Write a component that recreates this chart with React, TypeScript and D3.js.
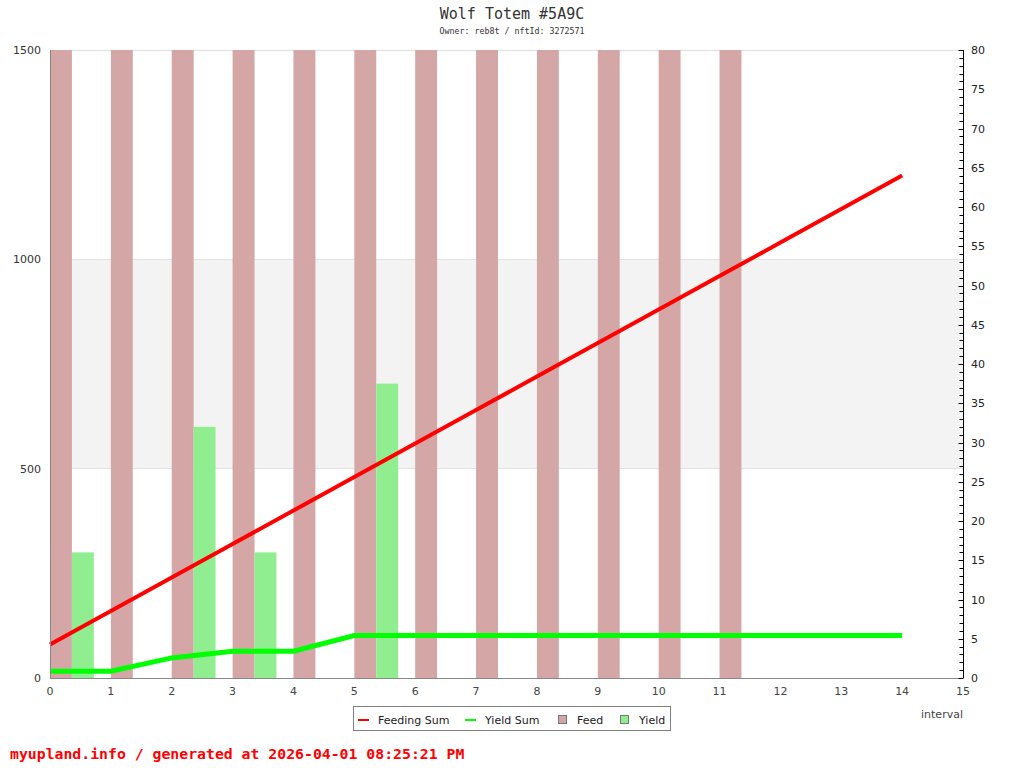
import { useEffect, useRef } from 'react';
import * as d3 from 'd3';

// interval index for each value
const intervals = d3.range(0, 15);
const feed = [80, 80, 80, 80, 80, 80, 80, 80, 80, 80, 80, 80, 0, 0, 0];
const yieldVals = [16, 0, 32, 16, 0, 37.5, 0, 0, 0, 0, 0, 0, 0, 0, 0];
const feedingSum = [80, 160, 240, 320, 400, 480, 560, 640, 720, 800, 880, 960, 1040, 1120, 1200];
const yieldSum = [16, 16, 48, 64, 64, 101.5, 101.5, 101.5, 101.5, 101.5, 101.5, 101.5, 101.5, 101.5, 101.5];
const leftTicks = [0, 500, 1000, 1500];
const xTicks = d3.range(0, 16);

const App = () => {
  const svgRef = useRef<SVGSVGElement | null>(null);

  const width = 1024;
  const height = 768;
  const marginTop = 50;
  const marginRight = 61;
  const marginBottom = 90;
  const marginLeft = 50;
  const barW = 0.36;

  useEffect(() => {
    const svgElement = svgRef.current;
    if (!svgElement) return;
    const svg = d3.select(svgElement);
    svg.selectAll('*').remove();

    const x = d3.scaleLinear().domain([0, 15]).range([marginLeft, width - marginRight]);
    const yL = d3.scaleLinear().domain([0, 1500]).range([height - marginBottom, marginTop]);
    const yR = d3.scaleLinear().domain([0, 80]).range([height - marginBottom, marginTop]);
    const sans = "'DejaVu Sans', sans-serif";
    const mono = "'DejaVu Sans Mono', monospace";

    svg.append('rect').attr('width', width).attr('height', height).attr('fill', '#fff');

    // title
    svg.append('text').attr('x', 512).attr('y', 19).attr('text-anchor', 'middle')
      .attr('font-family', mono).attr('font-size', 15).attr('fill', '#333')
      .text('Wolf Totem #5A9C');
    svg.append('text').attr('x', 512).attr('y', 34).attr('text-anchor', 'middle')
      .attr('font-family', mono).attr('font-size', 8.3).attr('fill', '#333')
      .text('Owner: reb8t / nftId: 3272571');

    // band + grid
    svg.append('rect')
      .attr('x', x(0)).attr('width', x(15) - x(0))
      .attr('y', yL(1000)).attr('height', yL(500) - yL(1000))
      .attr('fill', '#f3f3f3');
    svg.append('g').selectAll('line').data(leftTicks.slice(1)).join('line')
      .attr('x1', x(0)).attr('x2', x(15))
      .attr('y1', d => yL(d)).attr('y2', d => yL(d))
      .attr('stroke', '#e2e2e2').attr('stroke-width', 1).attr('shape-rendering', 'crispEdges');

    // bars
    svg.append('g').selectAll('rect').data(intervals.filter(i => feed[i] > 0)).join('rect')
      .attr('x', i => x(i)).attr('width', x(barW) - x(0))
      .attr('y', i => yR(feed[i])).attr('height', i => yR(0) - yR(feed[i]))
      .attr('fill', '#d4a6a6');
    svg.append('g').selectAll('rect').data(intervals.filter(i => yieldVals[i] > 0)).join('rect')
      .attr('x', i => x(i + barW)).attr('width', x(barW) - x(0))
      .attr('y', i => yR(yieldVals[i])).attr('height', i => yR(0) - yR(yieldVals[i]))
      .attr('fill', '#90ee90');

    // lines
    const line = (vals: number[]) => d3.line<number>().x(i => x(i)).y(i => yL(vals[i]))(intervals);
    svg.append('path').attr('d', line(yieldSum)).attr('fill', 'none')
      .attr('stroke', '#00ff00').attr('stroke-width', 5);
    svg.append('path').attr('d', line(feedingSum)).attr('fill', 'none')
      .attr('stroke', '#ff0000').attr('stroke-width', 4);

    // axes lines
    svg.append('line').attr('x1', x(0) + 0.5).attr('x2', x(0) + 0.5)
      .attr('y1', yL(1500)).attr('y2', yL(0)).attr('stroke', '#888');
    svg.append('line').attr('x1', x(0)).attr('x2', x(15))
      .attr('y1', yL(0) + 0.5).attr('y2', yL(0) + 0.5).attr('stroke', '#888');

    // left labels
    svg.append('g').selectAll('text').data(leftTicks).join('text')
      .attr('x', 41).attr('y', d => yL(d) + 4).attr('text-anchor', 'end')
      .attr('font-family', sans).attr('font-size', 11).attr('fill', '#333')
      .text(d => d);

    // bottom labels
    svg.append('g').selectAll('text').data(xTicks).join('text')
      .attr('x', d => x(d)).attr('y', 695).attr('text-anchor', 'middle')
      .attr('font-family', sans).attr('font-size', 11).attr('fill', '#444')
      .text(d => d);
    svg.append('text').attr('x', 942).attr('y', 718).attr('text-anchor', 'middle')
      .attr('font-family', sans).attr('font-size', 11).attr('fill', '#444')
      .text('interval');

    // right axis
    const rx = x(15) + 0.5;
    svg.append('line').attr('x1', rx).attr('x2', rx)
      .attr('y1', yR(80)).attr('y2', yR(0)).attr('stroke', '#000');
    svg.append('g').selectAll('line').data(d3.range(0, 81)).join('line')
      .attr('x1', d => rx - (d % 5 === 0 ? 5 : 4)).attr('x2', rx)
      .attr('y1', d => Math.round(yR(d)) + 0.5).attr('y2', d => Math.round(yR(d)) + 0.5)
      .attr('stroke', '#000');
    svg.append('g').selectAll('text').data(d3.range(0, 81, 5)).join('text')
      .attr('x', 971).attr('y', d => yR(d) + 4)
      .attr('font-family', sans).attr('font-size', 11).attr('fill', '#222')
      .text(d => d);

    // legend
    const lg = svg.append('g');
    lg.append('rect').attr('x', 353.5).attr('y', 706.5).attr('width', 317).attr('height', 24)
      .attr('fill', '#fff').attr('stroke', '#808080');
    const items = [
      { label: 'Feeding Sum', kind: 'line', color: '#ff0000', x: 358 },
      { label: 'Yield Sum', kind: 'line', color: '#00ff00', x: 465 },
      { label: 'Feed', kind: 'box', color: '#d4a6a6', x: 558 },
      { label: 'Yield', kind: 'box', color: '#90ee90', x: 620 },
    ];
    items.forEach(it => {
      if (it.kind === 'line') {
        lg.append('line').attr('x1', it.x).attr('x2', it.x + 11).attr('y1', 720).attr('y2', 720)
          .attr('stroke', it.color).attr('stroke-width', 2);
      } else {
        lg.append('rect').attr('x', it.x + 0.5).attr('y', 715.5).attr('width', 8).attr('height', 8)
          .attr('fill', it.color).attr('stroke', '#777');
      }
      lg.append('text').attr('x', it.x + (it.kind === 'line' ? 20 : 19)).attr('y', 724)
        .attr('font-family', sans).attr('font-size', 11).attr('fill', '#222').text(it.label);
    });

    // footer
    svg.append('text').attr('x', 10).attr('y', 759)
      .attr('font-family', mono).attr('font-size', 14.8).attr('font-weight', 'bold').attr('fill', '#ff0000')
      .text('myupland.info / generated at 2026-04-01 08:25:21 PM');
  }, []);

  return (
    <div style={{ position: 'absolute', left: 0, top: 0 }}>
      <svg ref={svgRef} width={width} height={height} style={{ display: 'block' }} />
    </div>
  );
};

export default App;
